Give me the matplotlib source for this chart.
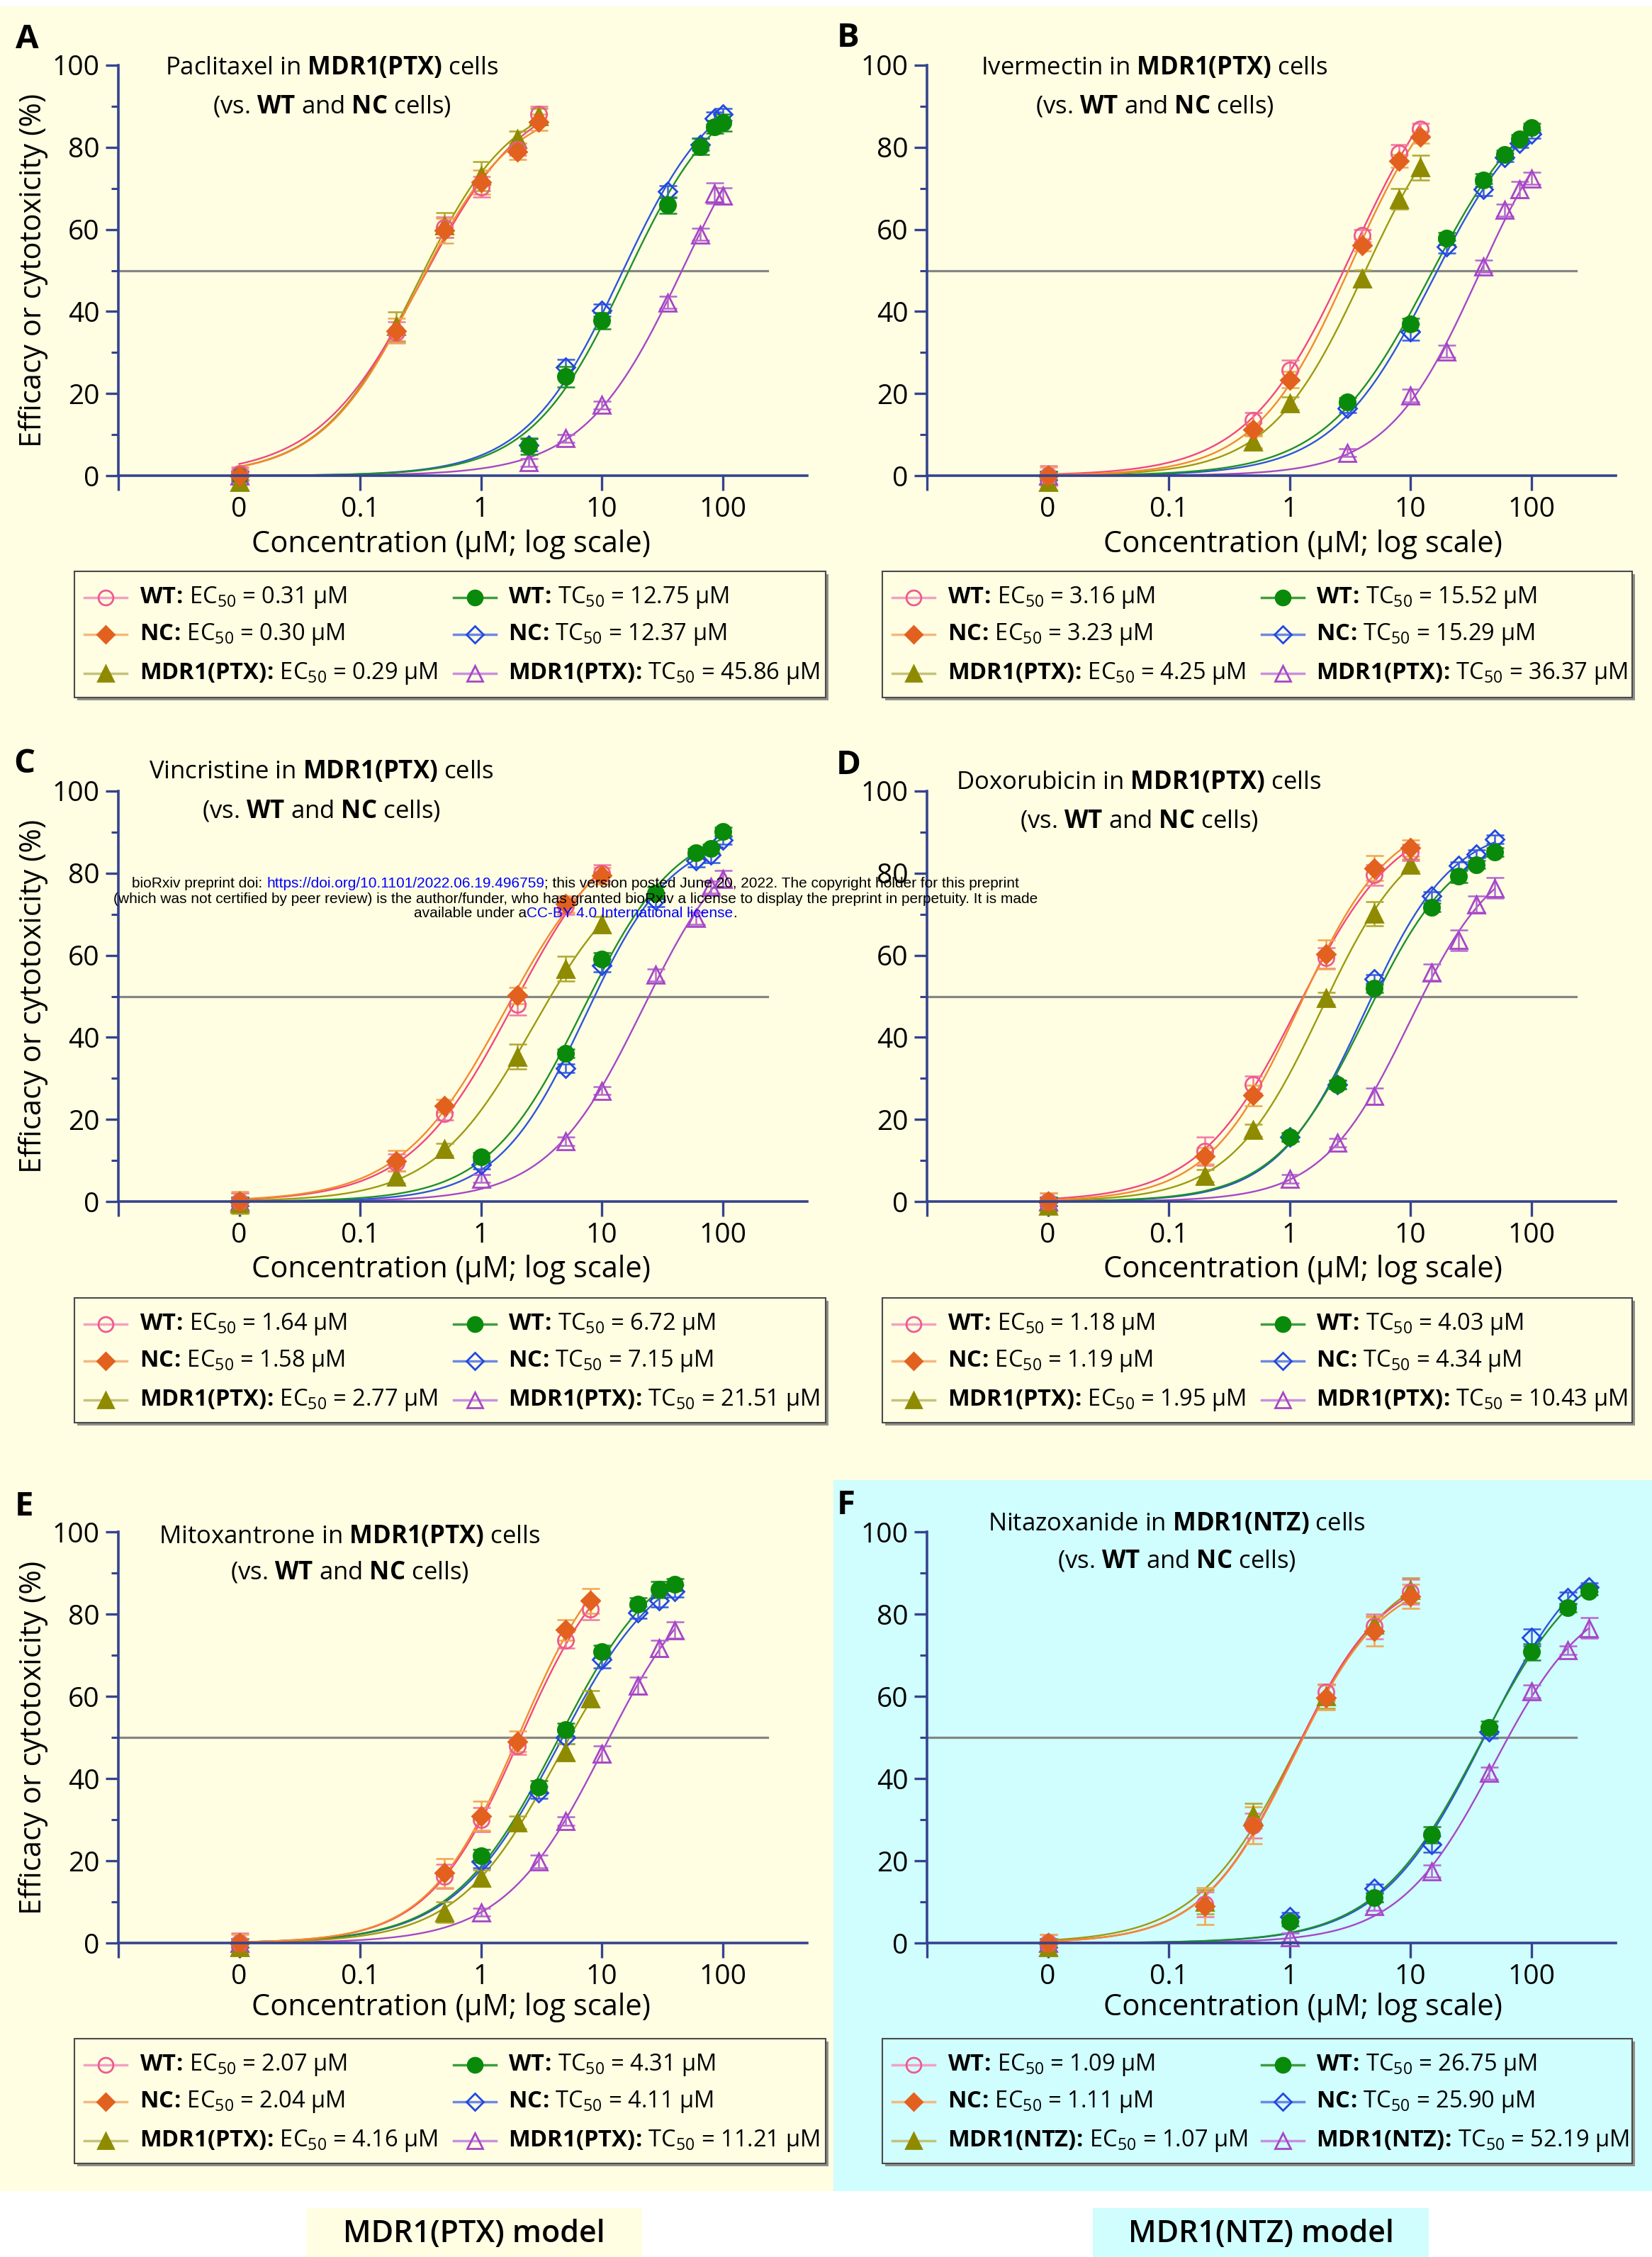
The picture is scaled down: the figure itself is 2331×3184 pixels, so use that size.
import numpy as np
import matplotlib
matplotlib.use("Agg")
import matplotlib.pyplot as plt
from matplotlib import font_manager
from matplotlib.patches import Rectangle
from matplotlib.lines import Line2D
from matplotlib.ticker import NullLocator

# ---------------- data (response in %) ----------------
# A: paclitaxel
A_ec_conc = [0, 0.2, 0.5, 1, 2, 3]
A_ec_wt = [0.5, 34.9, 60.5, 70.3, 79.5, 88.0]
A_ec_wt_sd = [1.5, 2.5, 2.5, 2.5, 1.5, 2.0]
A_ec_nc = [0.0, 35.3, 59.7, 71.5, 79.0, 86.1]
A_ec_nc_sd = [1.5, 3.0, 3.0, 3.0, 2.0, 2.0]
A_ec_mdr = [-1.5, 36.4, 61.0, 73.0, 82.0, 87.5]
A_ec_mdr_sd = [2.0, 3.5, 3.0, 3.5, 2.0, 2.0]
A_tc_conc = [0, 2.5, 5, 10, 35, 65, 85, 100]
A_tc_wt = [0, 7.2, 24.1, 37.8, 65.9, 80.2, 85.0, 86.0]
A_tc_wt_sd = [1.0, 2.0, 2.5, 2.0, 2.0, 2.0, 1.5, 2.0]
A_tc_nc = [0, 7.5, 26.4, 40.3, 69.2, 80.7, 87.1, 88.0]
A_tc_nc_sd = [1.0, 1.5, 2.0, 1.5, 1.5, 1.5, 1.5, 1.5]
A_tc_mdr = [0, 3.2, 9.1, 17.2, 42.2, 58.8, 68.8, 68.2]
A_tc_mdr_sd = [1.0, 1.0, 1.0, 1.0, 1.5, 1.5, 2.5, 2.0]

# B: ivermectin
B_ec_conc = [0, 0.5, 1, 4, 8, 12]
B_ec_wt = [0, 13.4, 25.7, 58.5, 78.6, 84.4]
B_ec_wt_sd = [2.5, 2.0, 2.5, 1.5, 2.0, 1.5]
B_ec_nc = [0, 11.2, 23.4, 56.2, 76.7, 82.5]
B_ec_nc_sd = [2.0, 1.5, 2.0, 1.5, 1.5, 1.5]
B_ec_mdr = [-1.5, 8.3, 17.6, 48.1, 67.4, 75.1]
B_ec_mdr_sd = [2.0, 1.5, 1.5, 2.0, 2.5, 3.0]
B_tc_conc = [0, 3, 10, 20, 40, 60, 80, 100]
B_tc_wt = [0, 18.0, 36.9, 57.8, 72.0, 78.2, 82.0, 84.8]
B_tc_wt_sd = [1.0, 1.0, 1.5, 1.5, 1.5, 1.0, 1.0, 1.0]
B_tc_nc = [0, 16.4, 35.0, 55.8, 69.7, 77.5, 81.0, 83.2]
B_tc_nc_sd = [1.0, 1.0, 2.0, 1.5, 1.5, 1.0, 1.0, 1.0]
B_tc_mdr = [0, 5.6, 19.5, 30.3, 51.0, 64.7, 69.7, 72.4]
B_tc_mdr_sd = [1.0, 1.0, 1.5, 1.5, 1.5, 1.5, 2.0, 1.5]

# C: vincristine
C_ec_conc = [0, 0.2, 0.5, 2, 5, 10]
C_ec_wt = [0, 9.5, 21.4, 48.0, 72.0, 80.0]
C_ec_wt_sd = [2.0, 2.0, 1.5, 2.5, 2.0, 2.0]
C_ec_nc = [0, 9.9, 23.3, 50.2, 72.5, 79.4]
C_ec_nc_sd = [2.5, 2.5, 1.5, 2.0, 2.0, 2.0]
C_ec_mdr = [-0.5, 6.0, 12.7, 35.3, 56.7, 67.5]
C_ec_mdr_sd = [2.5, 1.5, 1.5, 3.0, 3.0, 2.0]
C_tc_conc = [0, 1, 5, 10, 28, 60, 80, 100]
C_tc_wt = [0, 10.9, 36.1, 59.1, 75.2, 85.0, 86.0, 90.2]
C_tc_wt_sd = [1.0, 1.0, 1.0, 1.5, 1.5, 1.0, 1.0, 1.0]
C_tc_nc = [0, 9.0, 32.5, 57.5, 73.4, 83.0, 84.5, 88.0]
C_tc_nc_sd = [1.0, 1.0, 1.0, 1.5, 1.5, 1.5, 2.0, 1.0]
C_tc_mdr = [0, 5.6, 14.7, 27.0, 55.2, 69.0, 76.6, 78.6]
C_tc_mdr_sd = [1.0, 1.0, 1.0, 1.0, 1.5, 1.5, 1.5, 2.0]

# D: doxorubicin
D_ec_conc = [0, 0.2, 0.5, 2, 5, 10]
D_ec_wt = [0, 12.3, 28.5, 59.4, 79.6, 85.1]
D_ec_wt_sd = [2.0, 3.5, 2.0, 2.5, 2.5, 2.0]
D_ec_nc = [0, 11.1, 25.9, 60.2, 81.2, 86.1]
D_ec_nc_sd = [2.0, 2.0, 2.5, 3.5, 3.0, 2.0]
D_ec_mdr = [-1.0, 6.3, 17.4, 49.5, 70.1, 82.0]
D_ec_mdr_sd = [1.5, 1.5, 1.5, 1.5, 3.0, 1.5]
D_tc_conc = [0, 1, 2.5, 5, 15, 25, 35, 50]
D_tc_wt = [0, 15.7, 28.5, 51.9, 71.7, 79.2, 82.1, 85.1]
D_tc_wt_sd = [1.0, 1.0, 1.0, 1.0, 1.0, 1.5, 1.0, 1.0]
D_tc_nc = [0, 15.7, 28.5, 54.2, 74.4, 81.8, 84.7, 88.3]
D_tc_nc_sd = [1.0, 1.0, 1.0, 1.0, 1.0, 1.0, 1.0, 1.0]
D_tc_mdr = [0, 5.5, 14.3, 25.7, 55.8, 63.7, 72.4, 76.4]
D_tc_mdr_sd = [1.0, 1.0, 1.0, 2.0, 2.0, 2.5, 2.0, 2.5]

# E: mitoxantrone
E_ec_conc = [0, 0.5, 1, 2, 5, 8]
E_ec_wt = [0, 16.2, 30.0, 47.9, 73.7, 81.2]
E_ec_wt_sd = [2.5, 3.0, 3.0, 2.0, 2.0, 2.5]
E_ec_nc = [0, 17.0, 30.9, 49.0, 76.2, 83.2]
E_ec_nc_sd = [2.0, 3.5, 3.5, 2.5, 2.5, 3.0]
E_ec_mdr = [-1.0, 7.5, 15.8, 29.3, 46.4, 59.4]
E_ec_mdr_sd = [2.0, 2.5, 2.0, 1.5, 2.0, 2.0]
E_tc_conc = [0, 1, 3, 5, 10, 20, 30, 40]
E_tc_wt = [0, 21.2, 38.0, 51.9, 70.9, 82.4, 86.0, 87.2]
E_tc_wt_sd = [1.0, 1.5, 1.5, 1.5, 1.5, 1.5, 2.0, 1.5]
E_tc_nc = [0, 19.8, 36.6, 50.0, 68.9, 80.4, 83.2, 85.6]
E_tc_nc_sd = [1.0, 1.5, 1.5, 1.5, 2.0, 1.5, 1.5, 1.5]
E_tc_mdr = [0, 7.5, 19.8, 29.7, 46.0, 62.6, 71.7, 76.1]
E_tc_mdr_sd = [1.0, 1.0, 1.5, 1.0, 2.0, 2.0, 2.0, 2.0]

# F: nitazoxanide
F_ec_conc = [0, 0.2, 0.5, 2, 5, 10]
F_ec_wt = [0, 9.4, 28.6, 61.0, 77.0, 85.4]
F_ec_wt_sd = [2.0, 3.0, 3.0, 2.0, 3.0, 3.0]
F_ec_nc = [0, 9.0, 28.6, 59.7, 75.8, 84.3]
F_ec_nc_sd = [2.0, 4.5, 4.5, 3.0, 3.5, 3.0]
F_ec_mdr = [-1.0, 10.0, 31.0, 60.0, 77.4, 85.8]
F_ec_mdr_sd = [2.0, 3.0, 3.0, 3.0, 2.0, 3.0]
F_tc_conc = [0, 1, 5, 15, 45, 100, 200, 300]
F_tc_wt = [0, 5.2, 11.0, 26.3, 52.4, 70.8, 81.6, 85.6]
F_tc_wt_sd = [1.0, 1.0, 1.0, 2.0, 1.5, 2.0, 1.0, 1.0]
F_tc_nc = [0, 6.4, 13.3, 24.0, 51.3, 74.3, 83.9, 86.6]
F_tc_nc_sd = [1.0, 1.0, 1.0, 2.0, 1.5, 2.0, 1.5, 1.0]
F_tc_mdr = [0, 1.4, 9.0, 17.5, 41.3, 61.2, 71.2, 76.6]
F_tc_mdr_sd = [1.0, 1.0, 1.0, 1.5, 1.5, 1.5, 1.0, 2.5]

panel_letters = ["A", "B", "C", "D", "E", "F"]
drugs = ["Paclitaxel", "Ivermectin", "Vincristine", "Doxorubicin", "Mitoxantrone", "Nitazoxanide"]
models = ["MDR1(PTX)", "MDR1(PTX)", "MDR1(PTX)", "MDR1(PTX)", "MDR1(PTX)", "MDR1(NTZ)"]
ec50_wt = ["0.31", "3.16", "1.64", "1.18", "2.07", "1.09"]
ec50_nc = ["0.30", "3.23", "1.58", "1.19", "2.04", "1.11"]
ec50_mdr = ["0.29", "4.25", "2.77", "1.95", "4.16", "1.07"]
tc50_wt = ["12.75", "15.52", "6.72", "4.03", "4.31", "26.75"]
tc50_nc = ["12.37", "15.29", "7.15", "4.34", "4.11", "25.90"]
tc50_mdr = ["45.86", "36.37", "21.51", "10.43", "11.21", "52.19"]
xtick_labels = ["", "0", "0.1", "1", "10", "100"]

# ---------------- fonts ----------------
names = {f.name for f in font_manager.fontManager.ttflist}
MAIN = "Open Sans"
NARROW = "Liberation Sans Narrow" if "Liberation Sans Narrow" in names else "Liberation Sans"
plt.rcParams["font.family"] = [MAIN, "DejaVu Sans"]
plt.rcParams["mathtext.fontset"] = "custom"
plt.rcParams["mathtext.rm"] = MAIN
plt.rcParams["mathtext.it"] = MAIN + ":italic"
plt.rcParams["mathtext.bf"] = MAIN + ":bold"

W, H = 2331, 3184
fig = plt.figure(figsize=(W / 100, H / 100), dpi=100)

AXIS = "#35438f"
YELLOW = "#FFFEE3"
CYAN = "#D0FDFD"


def fx(x):
    return x / W


def fy(y):
    return 1 - y / H


def rect(x0, y0, x1, y1, **kw):
    r = Rectangle((fx(x0), fy(y1)), (x1 - x0) / W, (y1 - y0) / H,
                  transform=fig.transFigure, **kw)
    fig.add_artist(r)
    return r


# backgrounds
rect(0, 9, W, 3091, fc=YELLOW, ec="none", zorder=-10)
rect(1176, 2088, W, 3091, fc=CYAN, ec="none", zorder=-9)
rect(432, 3115, 906, H, fc=YELLOW, ec="none", zorder=-9)
rect(1542, 3115, 2016, H, fc=CYAN, ec="none", zorder=-9)
fig.text(fx(669), fy(3152), "MDR1(PTX) model", fontsize=31, fontweight="semibold",
         ha="center", va="center")
fig.text(fx(1779), fy(3152), "MDR1(NTZ) model", fontsize=31, fontweight="semibold",
         ha="center", va="center")

# series styles
EC_STYLE = {
    "wt": dict(marker="o", mfc="none", mec="#EE5A90", line="#F2477C", err="#F27AA2", leg="#F3A0C2", ms=16),
    "nc": dict(marker="D", mfc="#E2611F", mec="#E2611F", line="#F28A2E", err="#F2A64E", leg="#F5B780", ms=13),
    "mdr": dict(marker="^", mfc="#8E8B00", mec="#8E8B00", line="#9C9A10", err="#B0A830", leg="#C4C27A", ms=17),
}
TC_STYLE = {
    "wt": dict(marker="o", mfc="#0A8A0A", mec="#0A8A0A", line="#1F8F2A", err="#1F8F2A", leg="#3E9E3E", ms=16),
    "nc": dict(marker="D", mfc="none", mec="#2148E0", line="#2D55DA", err="#3A5FE0", leg="#6E88E2", ms=13),
    "mdr": dict(marker="^", mfc="none", mec="#A646C8", line="#A548C6", err="#B468D2", leg="#C890E0", ms=17),
}


def fit_4pl(conc, resp):
    c = np.asarray(conc, float)
    r = np.asarray(resp, float)
    m = c > 0
    lx = np.log10(c[m])
    y = r[m]
    le = np.arange(-2.0, 3.0, 0.01)
    tops = np.arange(50.0, 121.0, 1.0)
    best = None
    for h in np.arange(0.5, 3.01, 0.05):
        pred = tops[None, :, None] / (1 + 10 ** ((le[:, None, None] - lx[None, None, :]) * h))
        sse = ((pred - y) ** 2).sum(-1)
        i = np.unravel_index(sse.argmin(), sse.shape)
        if best is None or sse[i] < best[0]:
            best = (sse[i], le[i[0]], tops[i[1]], h)
    return best[1:]


def draw_series(ax, conc, resp, sd, st, lw=1.7):
    c = np.asarray(conc, float)
    xpos = np.where(c == 0, 0.01, c)
    le, top, h = fit_4pl(conc, resp)
    xs = np.logspace(-2, np.log10(c.max()), 300)
    ys = top / (1 + 10 ** ((le - np.log10(xs)) * h))
    ax.plot(xs, ys, color=st["line"], lw=lw, zorder=2)
    eb = ax.errorbar(xpos, resp, yerr=sd, fmt="none", ecolor=st["err"], elinewidth=1.8,
                     capsize=9, capthick=1.8, zorder=3)
    for a in list(eb.lines[1]) + list(eb.lines[2]):
        a.set_clip_on(False)
    ax.plot(xpos, resp, ls="none", marker=st["marker"], mfc=st["mfc"], mec=st["mec"],
            ms=st["ms"], mew=2.0, zorder=4, clip_on=False)


panels = [
    (A_ec_conc, [(A_ec_wt, A_ec_wt_sd), (A_ec_nc, A_ec_nc_sd), (A_ec_mdr, A_ec_mdr_sd)],
     A_tc_conc, [(A_tc_wt, A_tc_wt_sd), (A_tc_nc, A_tc_nc_sd), (A_tc_mdr, A_tc_mdr_sd)]),
    (B_ec_conc, [(B_ec_wt, B_ec_wt_sd), (B_ec_nc, B_ec_nc_sd), (B_ec_mdr, B_ec_mdr_sd)],
     B_tc_conc, [(B_tc_wt, B_tc_wt_sd), (B_tc_nc, B_tc_nc_sd), (B_tc_mdr, B_tc_mdr_sd)]),
    (C_ec_conc, [(C_ec_wt, C_ec_wt_sd), (C_ec_nc, C_ec_nc_sd), (C_ec_mdr, C_ec_mdr_sd)],
     C_tc_conc, [(C_tc_wt, C_tc_wt_sd), (C_tc_nc, C_tc_nc_sd), (C_tc_mdr, C_tc_mdr_sd)]),
    (D_ec_conc, [(D_ec_wt, D_ec_wt_sd), (D_ec_nc, D_ec_nc_sd), (D_ec_mdr, D_ec_mdr_sd)],
     D_tc_conc, [(D_tc_wt, D_tc_wt_sd), (D_tc_nc, D_tc_nc_sd), (D_tc_mdr, D_tc_mdr_sd)]),
    (E_ec_conc, [(E_ec_wt, E_ec_wt_sd), (E_ec_nc, E_ec_nc_sd), (E_ec_mdr, E_ec_mdr_sd)],
     E_tc_conc, [(E_tc_wt, E_tc_wt_sd), (E_tc_nc, E_tc_nc_sd), (E_tc_mdr, E_tc_mdr_sd)]),
    (F_ec_conc, [(F_ec_wt, F_ec_wt_sd), (F_ec_nc, F_ec_nc_sd), (F_ec_mdr, F_ec_mdr_sd)],
     F_tc_conc, [(F_tc_wt, F_tc_wt_sd), (F_tc_nc, F_tc_nc_sd), (F_tc_mdr, F_tc_mdr_sd)]),
]

# layout (pixels, top-left origin)
col_left = [167, 1308]
ax_w = 972
row_top = [92, 1116, 2161]
row_bot = [671, 1695, 2741]
title_pos = [(468, 96, 150), (1629, 96, 150), (453, 1089, 1144),
             (1607, 1103, 1158), (493, 2167, 2218), (1660, 2150, 2202)]
letter_pos = [(38, 56), (1197, 54), (34, 1078), (1197, 1080), (34, 2126), (1194, 2124)]
xlabel_pos = [(636, 768), (1838, 768), (636, 1791), (1838, 1791), (636, 2832), (1838, 2832)]
legend_box = [(105, 806, 1165, 984), (1245, 806, 2303, 984),
              (105, 1831, 1165, 2007), (1245, 1831, 2303, 2007),
              (105, 2876, 1165, 3052), (1245, 2876, 2303, 3052)]


def bold_tag(s):
    # bold label with a tight colon (mathtext spaces ':' as a relation)
    return r"$\mathbf{" + s + r"\!:\!}$"


def draw_legend(box, i, face):
    x0, y0, x1, y1 = box
    rect(x0 + 4, y0 + 4, x1 + 4, y1 + 4, fc="#8f8f88", ec="none", zorder=5)
    rect(x0, y0, x1, y1, fc=face, ec="#4a4a4a", lw=1.5, zorder=6)
    m = models[i]
    col1 = [(EC_STYLE["wt"], bold_tag("WT") + " EC$_{50}$ = " + ec50_wt[i] + " µM"),
            (EC_STYLE["nc"], bold_tag("NC") + " EC$_{50}$ = " + ec50_nc[i] + " µM"),
            (EC_STYLE["mdr"], bold_tag(m) + " EC$_{50}$ = " + ec50_mdr[i] + " µM")]
    col2 = [(TC_STYLE["wt"], bold_tag("WT") + " TC$_{50}$ = " + tc50_wt[i] + " µM"),
            (TC_STYLE["nc"], bold_tag("NC") + " TC$_{50}$ = " + tc50_nc[i] + " µM"),
            (TC_STYLE["mdr"], bold_tag(m) + " TC$_{50}$ = " + tc50_mdr[i] + " µM")]
    rows = [37, 89, 144]
    for hx0, hx1, tx, col in [(14, 74, 92, col1), (535, 595, 612, col2)]:
        for r, (st, lab) in zip(rows, col):
            yy = fy(y0 + r)
            fig.add_artist(Line2D([fx(x0 + hx0), fx(x0 + hx1)], [yy, yy], transform=fig.transFigure,
                                  color=st["leg"], lw=2.5, zorder=7))
            fig.add_artist(Line2D([fx(x0 + (hx0 + hx1) / 2)], [yy], transform=fig.transFigure,
                                  marker=st["marker"], mfc=st["mfc"], mec=st["mec"],
                                  ms=st["ms"] - 1, mew=2.0, ls="none", zorder=8))
            fig.text(fx(x0 + tx), yy, lab, fontsize=23.5, ha="left", va="center", zorder=8)


for i, (ec_conc, ec_sets, tc_conc, tc_sets) in enumerate(panels):
    r, c = divmod(i, 2)
    left = col_left[c]
    top, bot = row_top[r], row_bot[r]
    ax = fig.add_axes([fx(left), fy(bot), ax_w / W, (bot - top) / H])
    ax.patch.set_alpha(0)
    ax.set_xscale("log")
    ax.set_xlim(1e-3, 10 ** 2.7)
    ax.set_ylim(0, 100)

    ax.plot([1e-3, 10 ** 2.37], [50, 50], color="#858585", lw=2.3, zorder=1)

    tc_map = dict(zip(["wt", "nc", "mdr"], tc_sets))
    ec_map = dict(zip(["wt", "nc", "mdr"], ec_sets))
    for key in ["mdr", "nc", "wt"]:
        draw_series(ax, tc_conc, tc_map[key][0], tc_map[key][1], TC_STYLE[key])
    for key in ["mdr", "wt", "nc"]:
        draw_series(ax, ec_conc, ec_map[key][0], ec_map[key][1], EC_STYLE[key])

    for s in ["top", "right"]:
        ax.spines[s].set_visible(False)
    for s in ["left", "bottom"]:
        ax.spines[s].set_color(AXIS)
        ax.spines[s].set_linewidth(2.6)
        ax.spines[s].set_zorder(5)
    ax.set_xticks([1e-3, 1e-2, 0.1, 1, 10, 100])
    ax.set_xticklabels(xtick_labels)
    ax.xaxis.set_minor_locator(NullLocator())
    ax.set_yticks(range(0, 101, 20))
    ax.set_yticks(range(10, 100, 20), minor=True)
    ax.tick_params(axis="x", which="major", direction="out", length=15, width=2.4,
                   color=AXIS, labelsize=28, pad=6)
    ax.tick_params(axis="y", which="major", direction="out", length=13, width=2.4,
                   color=AXIS, labelsize=28, pad=6)
    ax.tick_params(axis="y", which="minor", direction="out", length=7, width=2.2, color=AXIS)

    lx, ly = letter_pos[i]
    fig.text(fx(lx), fy(ly), panel_letters[i], fontsize=34, fontweight="bold",
             ha="center", va="center")
    tx, ty1, ty2 = title_pos[i]
    fig.text(fx(tx), fy(ty1), drugs[i] + r" in $\mathbf{" + models[i] + "}$ cells",
             fontsize=25, ha="center", va="center")
    fig.text(fx(tx), fy(ty2), r"(vs. $\mathbf{WT}$ and $\mathbf{NC}$ cells)",
             fontsize=25, ha="center", va="center")
    xlx, xly = xlabel_pos[i]
    fig.text(fx(xlx), fy(xly), "Concentration (µM; log scale)", fontsize=30,
             ha="center", va="center")
    if c == 0:
        fig.text(fx(47), fy((top + bot) / 2), "Efficacy or cytotoxicity (%)", fontsize=30,
                 rotation=90, ha="center", va="center")
    draw_legend(legend_box[i], i, CYAN if i == 5 else YELLOW)

# bioRxiv watermark
renderer = fig.canvas.get_renderer()
wm_font = dict(family=[NARROW, "DejaVu Sans"], fontsize=16 if NARROW.endswith("Narrow") else 15)


def width_of(s):
    t1 = fig.text(0, 0, "x" + s + "x", **wm_font)
    t2 = fig.text(0, 0, "xx", **wm_font)
    w = t1.get_window_extent(renderer).width - t2.get_window_extent(renderer).width
    t1.remove()
    t2.remove()
    return w


wm_lines = [
    [("bioRxiv preprint doi: ", "black"), ("https://doi.org/10.1101/2022.06.19.496759", "#0000ff"),
     ("; this version posted June 20, 2022. The copyright holder for this preprint", "black")],
    [("(which was not certified by peer review) is the author/funder, who has granted bioRxiv a "
      "license to display the preprint in perpetuity. It is made", "black")],
    [("available under a", "black"), ("CC-BY 4.0 International license", "#0000ff"), (".", "black")],
]
for k, line in enumerate(wm_lines):
    widths = [width_of(s) for s, _ in line]
    x = 812 - sum(widths) / 2
    yc = 1247 + 21 * k
    for (s, col), w in zip(line, widths):
        fig.text(fx(x), fy(yc), s, color=col, ha="left", va="center", zorder=20, **wm_font)
        x += w

fig.savefig("out.png", dpi=100)
